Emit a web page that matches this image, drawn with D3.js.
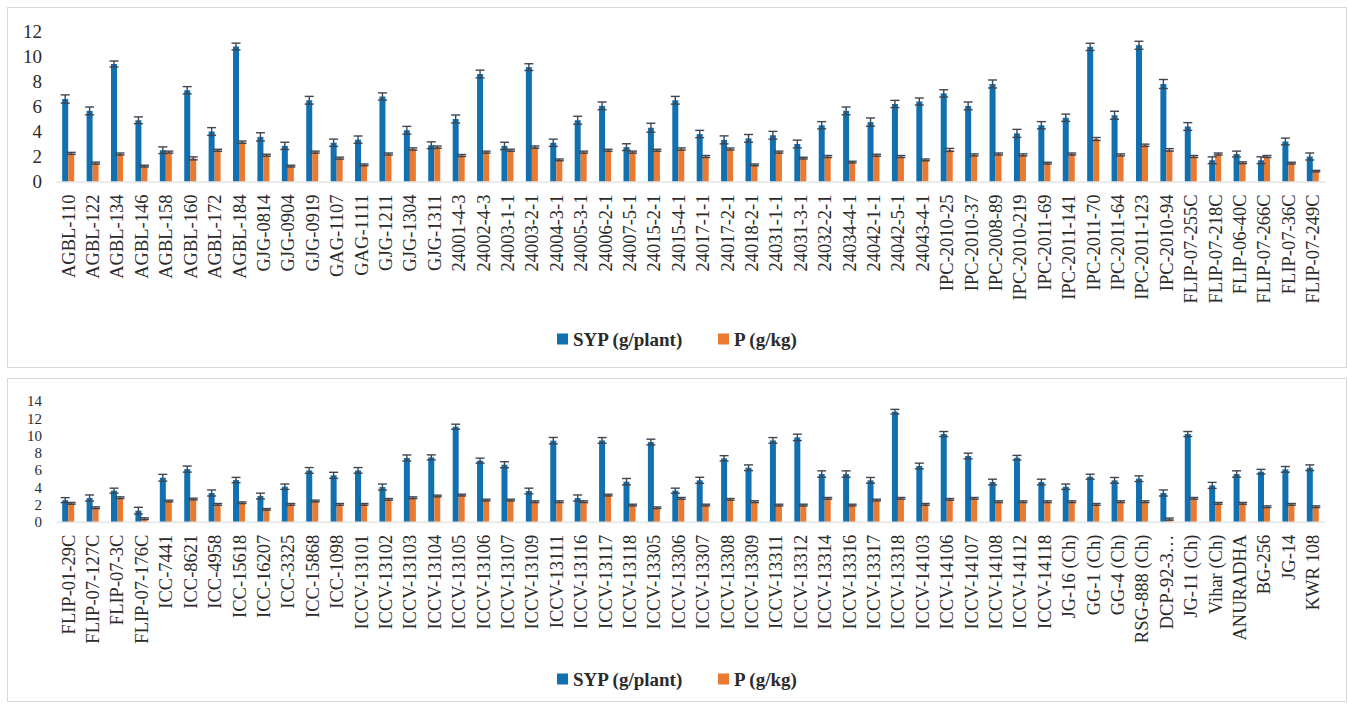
<!DOCTYPE html>
<html>
<head>
<meta charset="utf-8">
<script src="https://cdn.jsdelivr.net/npm/d3@7"></script>
<style>
  html, body { margin: 0; padding: 0; background: #ffffff; }
  svg { display: block; }
  text { font-family: "Liberation Serif", "Times New Roman", serif; fill: #2b2b2b; }
</style>
</head>
<body>
<svg id="chart" width="1348" height="704"></svg>
<script>
// ---- Panel A: genotypes 1–52 ----
const categoriesA = ["AGBL-110","AGBL-122","AGBL-134","AGBL-146","AGBL-158","AGBL-160","AGBL-172","AGBL-184",
  "GJG-0814","GJG-0904","GJG-0919","GAG-1107","GAG-1111","GJG-1211","GJG-1304","GJG-1311",
  "24001-4-3","24002-4-3","24003-1-1","24003-2-1","24004-3-1","24005-3-1","24006-2-1","24007-5-1",
  "24015-2-1","24015-4-1","24017-1-1","24017-2-1","24018-2-1","24031-1-1","24031-3-1","24032-2-1",
  "24034-4-1","24042-1-1","24042-5-1","24043-4-1",
  "IPC-2010-25","IPC-2010-37","IPC-2008-89","IPC-2010-219","IPC-2011-69","IPC-2011-141","IPC-2011-70",
  "IPC-2011-64","IPC-2011-123","IPC-2010-94",
  "FLIP-07-255C","FLIP-07-218C","FLIP-06-40C","FLIP-07-266C","FLIP-07-36C","FLIP-07-249C"];
const sypA = [6.6,5.65,9.4,4.9,2.5,7.3,4.0,10.8,3.57,2.85,6.5,3.1,3.35,6.8,4.1,2.9,
  5.0,8.6,2.85,9.15,3.1,4.9,6.05,2.75,4.3,6.5,3.8,3.33,3.45,3.7,3.0,4.5,5.65,4.75,
  6.2,6.4,7.05,6.05,7.8,3.85,4.5,5.1,10.77,5.3,10.9,7.8,4.4,1.7,2.2,1.7,3.2,2.0];
const sypErrA = [0.33,0.31,0.24,0.27,0.27,0.29,0.31,0.27,0.33,0.29,0.31,0.29,0.29,0.29,0.31,0.27,
  0.32,0.31,0.29,0.27,0.29,0.32,0.31,0.27,0.36,0.31,0.29,0.32,0.31,0.31,0.31,0.29,0.31,0.33,
  0.29,0.28,0.29,0.31,0.32,0.32,0.29,0.29,0.29,0.32,0.32,0.36,0.31,0.27,0.23,0.27,0.27,0.28];
const pA = [2.25,1.47,2.2,1.23,2.35,1.85,2.5,3.15,2.1,1.23,2.35,1.87,1.33,2.2,2.6,2.75,
  2.08,2.35,2.5,2.75,1.73,2.35,2.5,2.35,2.5,2.6,2.0,2.6,1.33,2.35,1.87,2.0,1.55,2.1,
  2.0,1.73,2.53,2.13,2.2,2.13,1.47,2.2,3.4,2.13,2.9,2.53,2.0,2.2,1.5,2.0,1.47,0.83];
const pErrA = [0.08,0.08,0.08,0.07,0.08,0.12,0.08,0.09,0.08,0.07,0.08,0.08,0.07,0.08,0.09,0.09,
  0.08,0.08,0.08,0.09,0.07,0.08,0.08,0.08,0.08,0.09,0.08,0.08,0.07,0.08,0.07,0.08,0.07,0.08,
  0.08,0.07,0.12,0.08,0.08,0.08,0.07,0.08,0.12,0.08,0.09,0.1,0.08,0.08,0.07,0.08,0.07,0.06];
const ticksA = [0, 2, 4, 6, 8, 10, 12];

// ---- Panel B: genotypes 53–104 ----
const categoriesB = ["FLIP-01-29C","FLIP-07-127C","FLIP-07-3C","FLIP-07-176C",
  "ICC-7441","ICC-8621","ICC-4958","ICC-15618","ICC-16207","ICC-3325","ICC-15868","ICC-1098",
  "ICCV-13101","ICCV-13102","ICCV-13103","ICCV-13104","ICCV-13105","ICCV-13106","ICCV-13107","ICCV-13109",
  "ICCV-13111","ICCV-13116","ICCV-13117","ICCV-13118","ICCV-13305","ICCV-13306","ICCV-13307","ICCV-13308",
  "ICCV-13309","ICCV-13311","ICCV-13312","ICCV-13314","ICCV-13316","ICCV-13317","ICCV-13318",
  "ICCV-14103","ICCV-14106","ICCV-14107","ICCV-14108","ICCV-14112","ICCV-14118",
  "JG-16 (Ch)","GG-1 (Ch)","GG-4 (Ch)","RSG-888 (Ch)","DCP-92-3…","JG-11 (Ch)","Vihar (Ch)",
  "ANURADHA","BG-256","JG-14","KWR 108"];
const sypB = [2.5,2.75,3.6,1.28,5.1,6.1,3.33,4.83,2.98,4.06,5.95,5.38,5.95,4.02,7.39,7.46,
  11.02,7.08,6.61,3.56,9.4,2.75,9.43,4.64,9.24,3.6,4.8,7.35,6.26,9.43,9.78,5.53,5.53,4.8,
  12.76,6.46,10.17,7.62,4.6,7.42,4.6,4.06,5.22,4.8,4.99,3.33,10.17,4.21,5.53,5.8,6.07,6.26];
const sypErrB = [0.29,0.35,0.29,0.39,0.39,0.35,0.35,0.31,0.33,0.31,0.33,0.35,0.33,0.35,0.35,0.29,
  0.29,0.29,0.35,0.33,0.37,0.35,0.33,0.37,0.33,0.29,0.35,0.31,0.33,0.33,0.37,0.37,0.37,0.33,
  0.27,0.33,0.29,0.33,0.33,0.27,0.33,0.31,0.29,0.33,0.33,0.35,0.29,0.35,0.37,0.27,0.33,0.33];
const pB = [2.13,1.62,2.78,0.35,2.4,2.63,2.01,2.2,1.43,2.01,2.4,2.01,2.01,2.59,2.78,2.98,
  3.09,2.51,2.51,2.32,2.32,2.32,3.09,1.93,1.62,2.71,1.93,2.59,2.32,1.93,1.93,2.71,1.93,2.51,
  2.71,2.01,2.59,2.71,2.32,2.32,2.32,2.32,2.01,2.32,2.32,0.3,2.71,2.13,2.13,1.74,2.01,1.74];
const pErrB = [0.1,0.1,0.1,0.1,0.1,0.1,0.1,0.1,0.09,0.1,0.1,0.1,0.1,0.1,0.1,0.1,
  0.1,0.1,0.1,0.1,0.1,0.1,0.1,0.1,0.09,0.1,0.1,0.1,0.1,0.1,0.1,0.1,0.1,0.1,
  0.1,0.1,0.1,0.1,0.1,0.1,0.1,0.1,0.1,0.1,0.1,0.12,0.1,0.1,0.1,0.1,0.1,0.1];
const ticksB = [0, 2, 4, 6, 8, 10, 12, 14];

const seriesNames = ["SYP (g/plant)", "P (g/kg)"];
const seriesColors = ["#1170b0", "#ea7a32"];
const errColor = "#3d4652";

const svg = d3.select("#chart");

function drawPanel(cfg) {
  const g = svg.append("g");

  // frame
  g.append("rect")
    .attr("x", cfg.box[0] + 0.5).attr("y", cfg.box[1] + 0.5)
    .attr("width", cfg.box[2]).attr("height", cfg.box[3])
    .attr("fill", "#ffffff").attr("stroke", "#d9d9d9").attr("stroke-width", 1);

  const x = d3.scaleBand().domain(cfg.categories).range([56, 1325]).padding(0);
  const bw = x.bandwidth();
  const barW = 6;
  const xs = d3.scaleBand().domain([0, 1]).range([bw / 2 - barW, bw / 2 + barW]);
  const y = d3.scaleLinear().domain([0, cfg.yMax]).range([cfg.yBase, cfg.yTop]);

  // y axis labels
  const yAxis = d3.axisLeft(y).tickValues(cfg.ticks).tickSize(0).tickPadding(14).tickFormat(d3.format("d"));
  g.append("g").attr("transform", "translate(56,0)").call(yAxis)
    .call(a => a.select(".domain").remove())
    .selectAll("text")
      .attr("font-family", "Liberation Serif, Times New Roman, serif")
      .attr("font-size", cfg.yFont).attr("fill", "#2b2b2b");

  const rows = cfg.categories.map((c, i) => ({
    c,
    vals: [
      { s: 0, v: cfg.syp[i], e: cfg.sypErr[i] },
      { s: 1, v: cfg.p[i], e: cfg.pErr[i] }
    ]
  }));

  const groups = g.append("g").selectAll("g").data(rows).join("g")
    .attr("transform", d => `translate(${x(d.c)},0)`);

  groups.selectAll("rect").data(d => d.vals).join("rect")
    .attr("x", d => xs(d.s))
    .attr("width", barW)
    .attr("y", d => y(d.v))
    .attr("height", d => y(0) - y(d.v))
    .attr("fill", d => seriesColors[d.s]);

  // x axis baseline and rotated category labels
  const xAxis = d3.axisBottom(x).tickSize(0).tickSizeOuter(0);
  g.append("g").attr("transform", `translate(0,${cfg.yBase})`).call(xAxis)
    .call(a => a.select(".domain").attr("stroke", "#d9d9d9").attr("stroke-width", 1))
    .selectAll("text")
      .attr("font-family", "Liberation Serif, Times New Roman, serif")
      .attr("font-size", 18.5).attr("fill", "#2b2b2b")
      .attr("text-anchor", "end")
      .attr("transform", "rotate(-90)")
      .attr("x", -13).attr("y", 0).attr("dy", "0.35em");

  // error bars
  const eb = groups.selectAll("g.err").data(d => d.vals).join("g").attr("class", "err")
    .attr("stroke", errColor).attr("stroke-width", 1.4).attr("fill", "none");
  const cap = 4.5;
  eb.append("line")
    .attr("x1", d => xs(d.s) + barW / 2).attr("x2", d => xs(d.s) + barW / 2)
    .attr("y1", d => y(d.v + d.e)).attr("y2", d => y(Math.max(0, d.v - d.e)));
  eb.append("line")
    .attr("x1", d => xs(d.s) + barW / 2 - cap).attr("x2", d => xs(d.s) + barW / 2 + cap)
    .attr("y1", d => y(d.v + d.e)).attr("y2", d => y(d.v + d.e));
  eb.append("line")
    .attr("x1", d => xs(d.s) + barW / 2 - cap).attr("x2", d => xs(d.s) + barW / 2 + cap)
    .attr("y1", d => y(Math.max(0, d.v - d.e))).attr("y2", d => y(Math.max(0, d.v - d.e)));

  // legend
  const legendX = [557, 718];
  const lg = g.append("g").selectAll("g").data(seriesNames).join("g")
    .attr("transform", (d, i) => `translate(${legendX[i]},${cfg.legendY})`);
  lg.append("rect").attr("x", 0).attr("y", -11).attr("width", 11).attr("height", 11)
    .attr("fill", (d, i) => seriesColors[i]);
  lg.append("text").attr("x", 16).attr("y", 1)
    .attr("font-size", 19).attr("font-weight", "bold")
    .text(d => d);
}

drawPanel({
  box: [7, 7, 1339, 360],
  categories: categoriesA, syp: sypA, sypErr: sypErrA, p: pA, pErr: pErrA,
  ticks: ticksA, yMax: 12, yBase: 181.5, yTop: 31.5, legendY: 344.5, yFont: 19
});

drawPanel({
  box: [7, 378, 1339, 323],
  categories: categoriesB, syp: sypB, sypErr: sypErrB, p: pB, pErr: pErrB,
  ticks: ticksB, yMax: 14, yBase: 521.7, yTop: 401, legendY: 684.5, yFont: 15
});
</script>
</body>
</html>
